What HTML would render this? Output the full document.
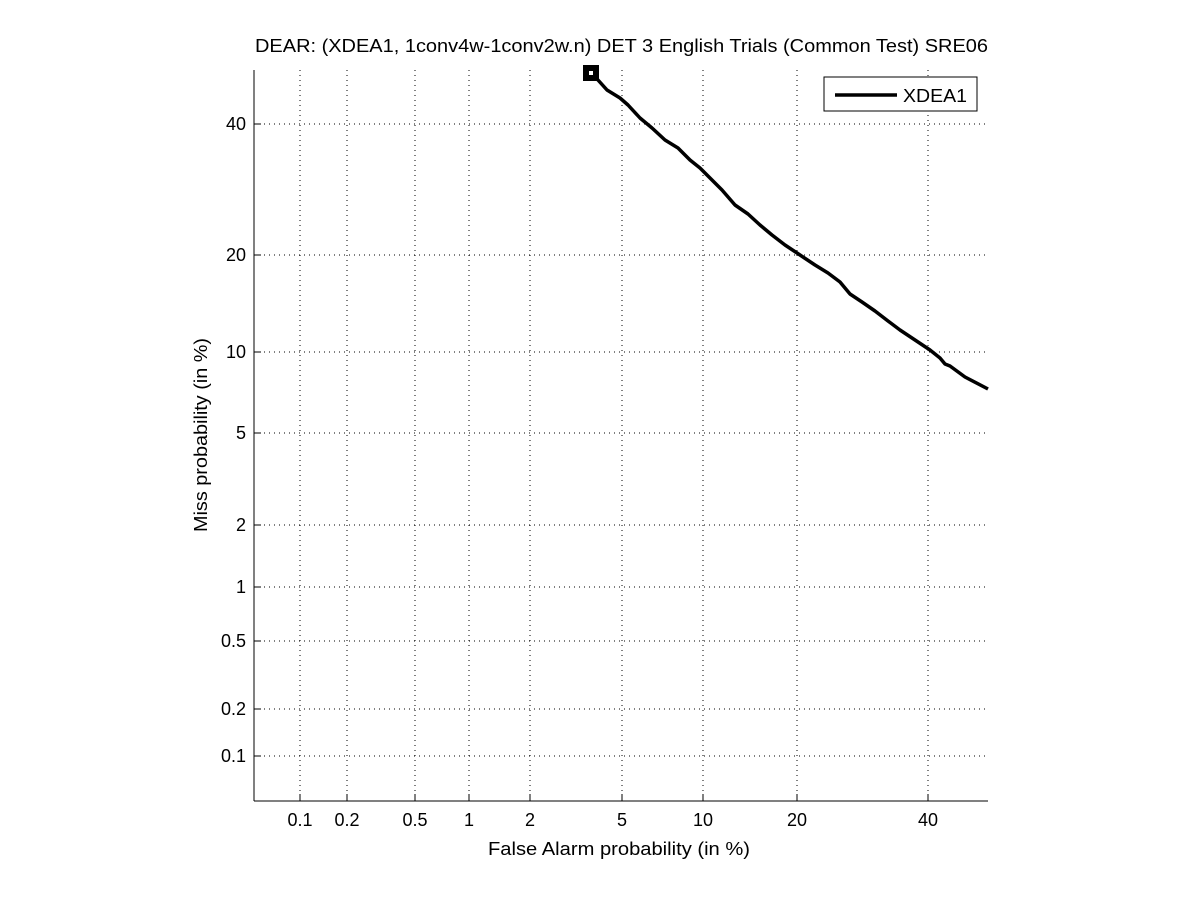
<!DOCTYPE html>
<html><head><style>body{margin:0;background:#fff}svg{display:block}text{font-family:"Liberation Sans",sans-serif;font-size:18px;fill:#000}</style></head>
<body>
<svg width="1201" height="900" viewBox="0 0 1201 900">
<rect width="1201" height="900" fill="#fff"/>
<g stroke="#000" stroke-width="1" stroke-dasharray="1,4">
<line x1="300" y1="70" x2="300" y2="801"/><line x1="347" y1="70" x2="347" y2="801"/><line x1="415" y1="70" x2="415" y2="801"/><line x1="469" y1="70" x2="469" y2="801"/><line x1="530" y1="70" x2="530" y2="801"/><line x1="622" y1="70" x2="622" y2="801"/><line x1="703" y1="70" x2="703" y2="801"/><line x1="797" y1="70" x2="797" y2="801"/><line x1="928" y1="70" x2="928" y2="801"/>
<line x1="254" y1="124" x2="988" y2="124"/><line x1="254" y1="255" x2="988" y2="255"/><line x1="254" y1="352" x2="988" y2="352"/><line x1="254" y1="433" x2="988" y2="433"/><line x1="254" y1="525" x2="988" y2="525"/><line x1="254" y1="587" x2="988" y2="587"/><line x1="254" y1="641" x2="988" y2="641"/><line x1="254" y1="709" x2="988" y2="709"/><line x1="254" y1="756" x2="988" y2="756"/>
</g>
<g stroke="#000" stroke-width="1">
<line x1="254" y1="70" x2="254" y2="801"/><line x1="254" y1="801" x2="988" y2="801"/>
<line x1="300" y1="801" x2="300" y2="794"/><line x1="347" y1="801" x2="347" y2="794"/><line x1="415" y1="801" x2="415" y2="794"/><line x1="469" y1="801" x2="469" y2="794"/><line x1="530" y1="801" x2="530" y2="794"/><line x1="622" y1="801" x2="622" y2="794"/><line x1="703" y1="801" x2="703" y2="794"/><line x1="797" y1="801" x2="797" y2="794"/><line x1="928" y1="801" x2="928" y2="794"/>
<line x1="254" y1="124" x2="261" y2="124"/><line x1="254" y1="255" x2="261" y2="255"/><line x1="254" y1="352" x2="261" y2="352"/><line x1="254" y1="433" x2="261" y2="433"/><line x1="254" y1="525" x2="261" y2="525"/><line x1="254" y1="587" x2="261" y2="587"/><line x1="254" y1="641" x2="261" y2="641"/><line x1="254" y1="709" x2="261" y2="709"/><line x1="254" y1="756" x2="261" y2="756"/>
</g>
<g text-anchor="middle">
<text x="300" y="826">0.1</text><text x="347" y="826">0.2</text><text x="415" y="826">0.5</text><text x="469" y="826">1</text><text x="530" y="826">2</text><text x="622" y="826">5</text><text x="703" y="826">10</text><text x="797" y="826">20</text><text x="928" y="826">40</text>
</g>
<g text-anchor="end">
<text x="246" y="130">40</text><text x="246" y="261">20</text><text x="246" y="358">10</text><text x="246" y="439">5</text><text x="246" y="531">2</text><text x="246" y="593">1</text><text x="246" y="647">0.5</text><text x="246" y="715">0.2</text><text x="246" y="762">0.1</text>
</g>
<text x="488" y="855" textLength="262" lengthAdjust="spacingAndGlyphs">False Alarm probability (in %)</text>
<text transform="translate(207,532) rotate(-90)" textLength="194" lengthAdjust="spacingAndGlyphs">Miss probability (in %)</text>
<text x="255" y="52" textLength="733" lengthAdjust="spacingAndGlyphs">DEAR: (XDEA1, 1conv4w-1conv2w.n) DET 3 English Trials (Common Test) SRE06</text>
<polyline fill="none" stroke="#000" stroke-width="3.5" stroke-linejoin="round" points="591,73 598,80 607,90 620,98 628,105 640,118 652,128 665,140 678,148 690,160 700,168 710,178 722,190 735,205 748,214 760,225 772,235 785,245 800,255 815,265 828,273 840,282 850,294 862,302 875,311 888,321 900,330 915,340 930,350 940,358 945,364 950,366 965,377 988,389"/>
<rect x="584" y="66" width="14" height="14" fill="#000" stroke="#000" stroke-width="2"/>
<rect x="589" y="71" width="4" height="4" fill="#fff"/>
<rect x="824" y="77" width="153" height="34" fill="#fff" stroke="#000" stroke-width="1"/>
<line x1="835" y1="95" x2="897" y2="95" stroke="#000" stroke-width="3.5"/>
<text x="903" y="102" textLength="64" lengthAdjust="spacingAndGlyphs">XDEA1</text>
</svg>
</body></html>
